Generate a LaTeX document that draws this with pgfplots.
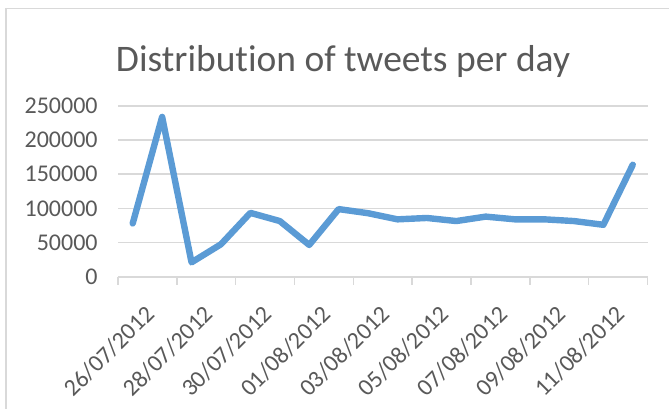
\documentclass[border=0pt]{standalone}
\usepackage{fontspec}
\setmainfont{Carlito}[Ligatures={NoCommon}]
\usepackage{pgfplots}
\pgfplotsset{compat=1.18}
\definecolor{txtgray}{RGB}{89,89,89}
\definecolor{gridgray}{RGB}{217,217,217}
\definecolor{framegray}{RGB}{217,217,217}
\definecolor{lineblue}{RGB}{91,155,213}
\begin{document}
\begin{tikzpicture}
\path[use as bounding box] (0,0) rectangle (334.5pt,204pt);
\draw[framegray, line width=0.6pt] (3pt,-1pt) -- (3pt,199.75pt) -- (336pt,199.75pt);
\node[anchor=base, text=txtgray, font=\fontsize{18.75pt}{22pt}\selectfont, inner sep=0pt] at (171.5pt,168pt) {Distribution of tweets per day};
\begin{axis}[
  at={(59pt,65.65pt)}, anchor=south west,
  scale only axis, width=264.75pt, height=85.35pt,
  xmin=-0.5, xmax=17.5, ymin=0, ymax=250000,
  clip=false,
  axis lines*=left,
  axis line style={-},
  y axis line style={draw=none},
  x axis line style={draw=gridgray, line width=0.8pt},
  ytick={0,50000,100000,150000,200000,250000},
  yticklabels={0,50000,100000,150000,200000,250000},
  ymajorgrids, grid style={gridgray, line width=0.8pt},
  scaled y ticks=false,
  yticklabel style={text=txtgray, font=\fontsize{12pt}{14pt}\selectfont, inner sep=0pt, xshift=-10pt},
  ytick style={draw=none},
  xtick={0,2,...,16},
  xticklabels={26/07/2012,28/07/2012,30/07/2012,01/08/2012,03/08/2012,05/08/2012,07/08/2012,09/08/2012,11/08/2012},
  xticklabel style={rotate=45, anchor=east, text=txtgray, font=\fontsize{12pt}{14pt}\selectfont, inner sep=0pt, yshift=-18pt, xshift=-5.5pt},
  xtick style={draw=none},
  extra x ticks={-0.5,1.5,3.5,5.5,7.5,9.5,11.5,13.5,15.5,17.5},
  extra x tick style={xticklabel={}, xtick style={draw=gridgray, line width=0.8pt}, major tick length=4pt, tick align=outside, grid=none},
]
\addplot[lineblue, line width=3.2pt, line join=round, line cap=round, mark=none] coordinates {
(0,78000) (1,234000) (2,21000) (3,47500) (4,93500) (5,81500) (6,46500) (7,99000) (8,93000) (9,84000) (10,86000) (11,81500) (12,88000) (13,84000) (14,84000) (15,81500) (16,76000) (17,164000)
};
\end{axis}
\end{tikzpicture}
\end{document}
